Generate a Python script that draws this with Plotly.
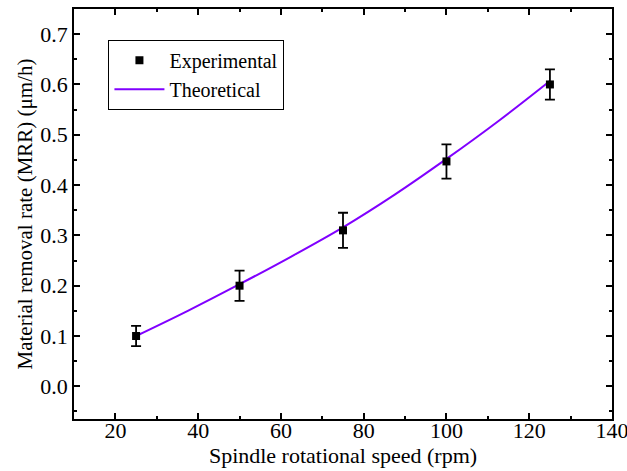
import plotly.graph_objects as go

speed_exp = [25, 50, 75, 100, 125]
mrr_exp = [0.100, 0.200, 0.310, 0.447, 0.600]
mrr_err = [0.020, 0.030, 0.035, 0.034, 0.030]

speed_theo = [25, 37.5, 50, 62.5, 75, 87.5, 100, 112.5, 125]
mrr_theo = [0.100, 0.150, 0.203, 0.258, 0.316, 0.381, 0.452, 0.527, 0.607]

font = "Liberation Serif"

fig = go.Figure()
fig.add_trace(go.Scatter(
    x=speed_theo, y=mrr_theo, mode="lines", name="Theoretical",
    line=dict(color="#8000FF", width=2, shape="spline"),
))
fig.add_trace(go.Scatter(
    x=speed_exp, y=mrr_exp, mode="markers", name="Experimental",
    marker=dict(symbol="square", color="black", size=8),
    error_y=dict(type="data", array=mrr_err, color="black", thickness=1.8, width=5),
))

axis_common = dict(
    showline=True, linecolor="black", linewidth=1.5, mirror="ticks",
    ticks="inside", ticklen=6, tickwidth=1.5, tickcolor="black",
    showgrid=False, zeroline=False, automargin=False,
    ticklabeloverflow="allow",
    tickfont=dict(family=font, size=22, color="black"),
)

fig.update_xaxes(
    range=[10, 140], tick0=20, dtick=20, ticklabelstandoff=-9,
    minor=dict(ticks="inside", ticklen=3, tickwidth=1.5, tickcolor="black", dtick=10, tick0=0),
    title=dict(text="Spindle rotational speed (rpm)", font=dict(family=font, size=22, color="black"), standoff=0),
    **axis_common,
)
fig.update_yaxes(
    range=[-0.065, 0.75], tick0=0, dtick=0.1, tickformat=".1f",
    minor=dict(ticks="inside", ticklen=3, tickwidth=1.5, tickcolor="black", dtick=0.05, tick0=0),
    title=dict(text="Material removal rate (MRR) (μm/h)", font=dict(family=font, size=21, color="black"), standoff=2),
    **axis_common,
)

fig.update_layout(
    width=627, height=471,
    margin=dict(l=74, r=15, t=9, b=52),
    paper_bgcolor="white", plot_bgcolor="white",
    legend=dict(
        x=0.064, y=0.925, xanchor="left", yanchor="top",
        bordercolor="black", borderwidth=1, bgcolor="white",
        font=dict(family=font, size=20, color="black"),
        traceorder="reversed", tracegroupgap=0, itemwidth=50,
    ),
)

fig.write_html("out.html")
